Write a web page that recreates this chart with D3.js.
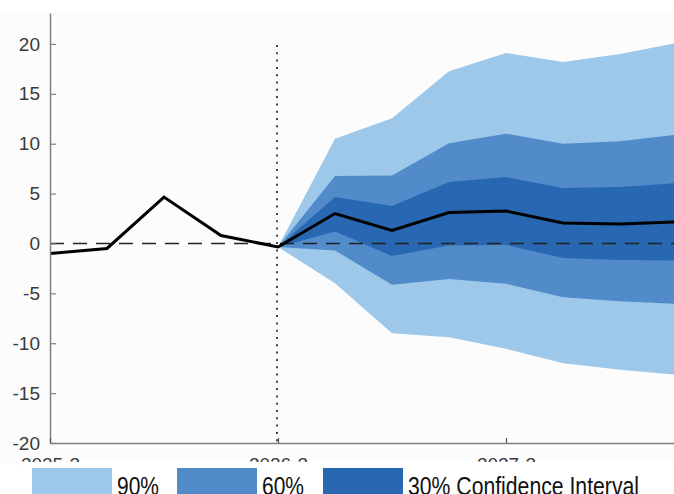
<!DOCTYPE html>
<html>
<head>
<meta charset="utf-8">
<script src="https://cdn.jsdelivr.net/npm/d3@7"></script>
<style>
  body { margin: 0; background: #fff; }
  svg { display: block; }
</style>
</head>
<body>
<div id="chart"></div>
<script>
// quarters, history + projection
const quarters = ["2025-3", "2025-4", "2026-1", "2026-2", "2026-3", "2026-4",
    "2027-1", "2027-2", "2027-3", "2027-4", "2028-1", "2028-2"];
const tickQuarters = ["2025-3", "2026-3", "2027-3"];
const central = [-1.0, -0.5, 4.65, 0.8, -0.35, 3.0, 1.3, 3.1, 3.25, 2.05, 1.95, 2.15];

// fan bands start at the last actual (index 4)
const fanStart = 4;
const upper90 = [-0.35, 10.5, 12.55, 17.25, 19.1, 18.2, 19.0, 20.1];
const lower90 = [-0.35, -4.0, -9.0, -9.4, -10.55, -12.0, -12.65, -13.15];
const upper60 = [-0.35, 6.75, 6.8, 10.05, 11.0, 10.0, 10.25, 10.9];
const lower60 = [-0.35, -0.7, -4.15, -3.55, -4.05, -5.4, -5.8, -6.05];
const upper30 = [-0.35, 4.65, 3.75, 6.15, 6.65, 5.55, 5.65, 6.05];
const lower30 = [-0.35, 1.2, -1.25, -0.2, -0.15, -1.45, -1.65, -1.7];

const yTicks = [-20, -15, -10, -5, 0, 5, 10, 15, 20];
const legendLabels = ["90%", "60%", "30% Confidence Interval"];
const colors = ["#9dc8ea", "#518bca", "#2867b1"];

const W = 674, H = 494;
const svg = d3.select("#chart").append("svg")
    .attr("width", W)
    .attr("height", H);

// faint figure background
svg.append("rect")
    .attr("x", 0).attr("y", 13)
    .attr("width", W).attr("height", 450)
    .attr("fill", "#fcfcfc");

const x = d3.scaleLinear().domain([0, quarters.length - 1]).range([50, 677]);
const y = d3.scaleLinear().domain([-20, 23.1]).range([443, 13]);

// bands
const bands = [
    { up: upper90, lo: lower90, color: colors[0] },
    { up: upper60, lo: lower60, color: colors[1] },
    { up: upper30, lo: lower30, color: colors[2] }
];
const area = d3.area()
    .x((d, i) => x(fanStart + i))
    .y0(d => y(d[0]))
    .y1(d => y(d[1]));

bands.forEach(b => {
    svg.append("path")
        .datum(b.lo.map((v, i) => [v, b.up[i]]))
        .attr("fill", b.color)
        .attr("d", area);
});

// zero line
svg.append("line")
    .attr("x1", x(0)).attr("x2", W)
    .attr("y1", y(0)).attr("y2", y(0))
    .attr("stroke", "#222")
    .attr("stroke-width", 1.5)
    .attr("stroke-dasharray", "14,9");

// vertical dotted line at start of projection
svg.append("line")
    .attr("x1", x(fanStart) - 1).attr("x2", x(fanStart) - 1)
    .attr("y1", 45).attr("y2", y(-20))
    .attr("stroke", "#444")
    .attr("stroke-width", 2)
    .attr("stroke-dasharray", "2,5.3");

// central projection line
const line = d3.line()
    .x((d, i) => x(i))
    .y(d => y(d));

svg.append("path")
    .datum(central)
    .attr("fill", "none")
    .attr("stroke", "#000")
    .attr("stroke-width", 3)
    .attr("stroke-linejoin", "miter")
    .attr("d", line);

// axes
const yAxis = d3.axisLeft(y)
    .tickValues(yTicks)
    .tickFormat(d => String(d))
    .tickSizeInner(-6)
    .tickSizeOuter(0)
    .tickPadding(10);

const gy = svg.append("g")
    .attr("transform", `translate(${x(0)},0)`)
    .call(yAxis);
gy.select(".domain").attr("stroke", "#808080").attr("stroke-width", 1.5);
gy.selectAll(".tick line").attr("stroke", "#808080").attr("stroke-width", 1.2);
gy.selectAll(".tick text")
    .attr("fill", "#3a3a3a")
    .style("font-family", "'Liberation Sans', Arial, sans-serif")
    .style("font-size", "19px");

const xAxis = d3.axisBottom(x)
    .tickValues(tickQuarters.map(q => quarters.indexOf(q)))
    .tickFormat(i => quarters[i])
    .tickSizeInner(-5)
    .tickSizeOuter(0)
    .tickPadding(15);

const gx = svg.append("g")
    .attr("transform", `translate(0,${y(-20)})`)
    .call(xAxis);
gx.select(".domain").attr("stroke", "#808080").attr("stroke-width", 1.5);
gx.selectAll(".tick line").attr("stroke", "#555").attr("stroke-width", 1.2);
gx.selectAll(".tick text")
    .attr("fill", "#3a3a3a")
    .style("font-family", "'Liberation Sans', Arial, sans-serif")
    .style("font-size", "19px");

// legend box over the bottom of the tick labels
const legend = svg.append("g");
legend.append("rect")
    .attr("x", 22).attr("y", 462)
    .attr("width", W - 22).attr("height", H - 462)
    .attr("fill", "#fff");

const legendX = [32, 177, 323];
const legendW = [42, 42, 231];
legendLabels.forEach((lab, i) => {
    legend.append("rect")
        .attr("x", legendX[i]).attr("y", 468)
        .attr("width", 80).attr("height", 30)
        .attr("fill", colors[i]);
    legend.append("text")
        .attr("x", legendX[i] + 85)
        .attr("y", 495)
        .attr("fill", "#111")
        .attr("textLength", legendW[i])
        .attr("lengthAdjust", "spacingAndGlyphs")
        .style("font-family", "'Liberation Sans', Arial, sans-serif")
        .style("font-size", "26px")
        .text(lab);
});
</script>
</body>
</html>
